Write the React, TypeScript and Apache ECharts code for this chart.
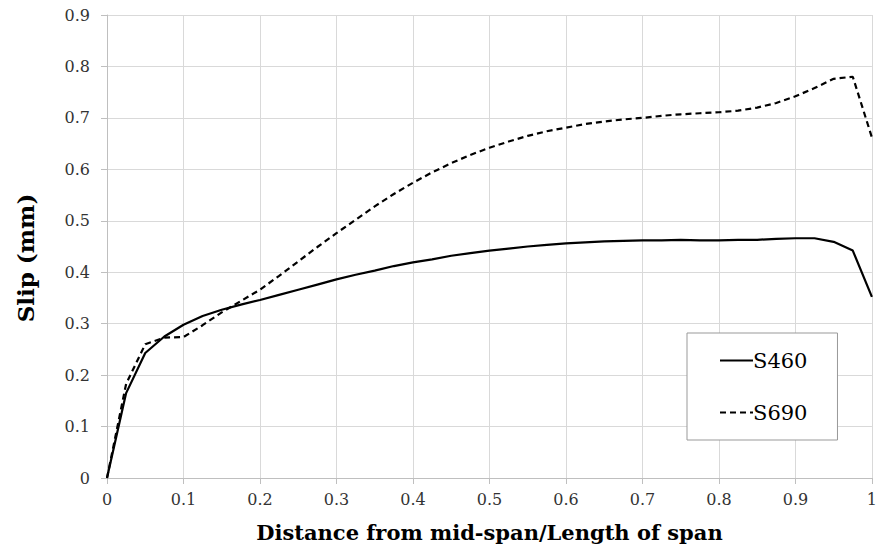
import React, { useEffect, useRef } from "react";
import * as echarts from "echarts";

const xValues = [0, 0.025, 0.05, 0.075, 0.1, 0.125, 0.15, 0.175, 0.2, 0.225, 0.25, 0.275, 0.3, 0.325, 0.35, 0.375, 0.4, 0.425, 0.45, 0.475, 0.5, 0.525, 0.55, 0.575, 0.6, 0.625, 0.65, 0.675, 0.7, 0.725, 0.75, 0.775, 0.8, 0.825, 0.85, 0.875, 0.9, 0.925, 0.95, 0.975, 1.0];
const s460 = [0, 0.165, 0.243, 0.275, 0.298, 0.315, 0.327, 0.337, 0.346, 0.356, 0.366, 0.376, 0.386, 0.395, 0.403, 0.412, 0.419, 0.425, 0.432, 0.437, 0.442, 0.446, 0.45, 0.453, 0.456, 0.458, 0.46, 0.461, 0.462, 0.462, 0.463, 0.462, 0.462, 0.463, 0.463, 0.465, 0.466, 0.466, 0.459, 0.442, 0.352];
const s690 = [0, 0.183, 0.26, 0.273, 0.274, 0.297, 0.322, 0.344, 0.366, 0.393, 0.421, 0.449, 0.476, 0.502, 0.528, 0.552, 0.574, 0.594, 0.612, 0.628, 0.642, 0.654, 0.665, 0.674, 0.681, 0.688, 0.693, 0.697, 0.7, 0.704, 0.707, 0.709, 0.711, 0.714, 0.72, 0.729, 0.742, 0.758, 0.776, 0.78, 0.662];
const seriesNames = ["S460", "S690"];
const xTitle = "Distance from mid-span/Length of span";
const yTitle = "Slip (mm)";

const FONT = "DejaVu Serif";

export default function App() {
  const ref = useRef<HTMLDivElement>(null);
  useEffect(() => {
    if (!ref.current) return;
    const chart = echarts.init(ref.current, null, { renderer: "svg" });
    const pair = (ys: number[]) => xValues.map((x, i) => [x, ys[i]]);
    chart.setOption({
      animation: false,
      backgroundColor: "#ffffff",
      textStyle: { fontFamily: FONT },
      grid: { left: 107, right: 6, top: 15, bottom: 75, containLabel: false },
      xAxis: {
        type: "value",
        min: 0,
        max: 1,
        interval: 0.1,
        name: xTitle,
        nameLocation: "middle",
        nameGap: 44,
        nameTextStyle: { fontFamily: FONT, fontSize: 21, fontWeight: "bold", color: "#000" },
        axisLine: { show: true, lineStyle: { color: "#bfbfbf", width: 1 } },
        axisTick: { show: true, length: 6, lineStyle: { color: "#bfbfbf" } },
        axisLabel: {
          fontFamily: FONT,
          fontSize: 16,
          color: "#333",
          margin: 13,
          formatter: (v: number) => (Math.abs(v - 1) < 1e-9 ? "1" : Math.abs(v) < 1e-9 ? "0" : v.toFixed(1)),
        },
        splitLine: { show: true, lineStyle: { color: "#d9d9d9", width: 1 } },
      },
      yAxis: {
        type: "value",
        min: 0,
        max: 0.9,
        interval: 0.1,
        axisLine: { show: true, lineStyle: { color: "#bfbfbf", width: 1 } },
        axisTick: { show: true, length: 6, lineStyle: { color: "#bfbfbf" } },
        axisLabel: {
          fontFamily: FONT,
          fontSize: 16,
          color: "#333",
          margin: 17,
          formatter: (v: number) => (Math.abs(v) < 1e-9 ? "0" : v.toFixed(1)),
        },
        splitLine: { show: true, lineStyle: { color: "#d9d9d9", width: 1 } },
      },
      legend: {
        orient: "vertical",
        left: 687,
        top: 333,
        itemWidth: 33,
        itemHeight: 14,
        itemGap: 31,
        padding: [17, 30, 17, 32],
        borderColor: "#999",
        borderWidth: 1,
        backgroundColor: "#fff",
        itemStyle: { color: "rgba(0,0,0,0)", borderColor: "rgba(0,0,0,0)", borderWidth: 0 },
        textStyle: { fontFamily: FONT, fontSize: 21, color: "#000", padding: [0, 0, 0, -5] },
        data: seriesNames,
      },
      graphic: [
        {
          type: "text",
          rotation: Math.PI / 2,
          x: 25,
          y: 258,
          style: {
            text: yTitle,
            fontFamily: FONT,
            fontSize: 23,
            fontWeight: "bold",
            fill: "#000",
            textAlign: "center",
            textVerticalAlign: "middle",
          },
        },
      ],
      series: [
        {
          name: seriesNames[0],
          type: "line",
          data: pair(s460),
          symbol: "none",
          lineStyle: { color: "#000", width: 2.2, type: "solid" },
          itemStyle: { color: "#000" },
        },
        {
          name: seriesNames[1],
          type: "line",
          data: pair(s690),
          symbol: "none",
          lineStyle: { color: "#000", width: 2.2, type: [6, 4] },
          itemStyle: { color: "#000" },
        },
      ],
    });
    return () => chart.dispose();
  }, []);
  return <div ref={ref} style={{ width: 880, height: 553, position: "absolute", left: 0, top: 0 }} />;
}
